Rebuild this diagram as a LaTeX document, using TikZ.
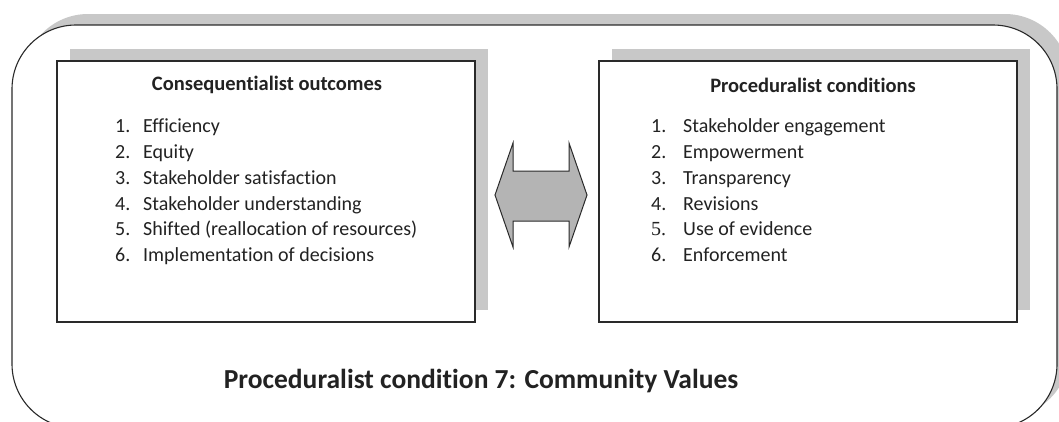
\documentclass[tikz,border=0pt]{standalone}
\usepackage{fontspec}
\setmainfont{Carlito}[Ligatures=NoCommon]
\newfontfamily\timesnum{Liberation Serif}
\usetikzlibrary{shadows}
\definecolor{shadegray}{HTML}{C8C8C8}
\definecolor{arrowgray}{HTML}{B4B4B4}
\definecolor{linedark}{HTML}{2A2A2A}
\definecolor{textdark}{HTML}{222222}
\begin{document}
\begin{tikzpicture}[x=1pt,y=-1pt,
  framebox/.style={draw=linedark, line width=1.1pt, fill=white, rounded corners=64pt,
    inner sep=0pt, minimum width=1045pt, minimum height=403pt,
    drop shadow={shadow xshift=12pt, shadow yshift=11pt, fill=shadegray, opacity=1}},
  listbox/.style={draw=linedark, line width=1.3pt, fill=white, inner sep=0pt,
    minimum width=418pt, minimum height=261pt,
    drop shadow={shadow xshift=13pt, shadow yshift=12pt, fill=shadegray, opacity=1}},
  heading/.style={font=\fontsize{20.5}{24}\selectfont\bfseries, text=textdark, inner sep=0pt},
  item/.style={font=\fontsize{20}{24}\selectfont, text=textdark, inner sep=0pt, anchor=base west},
  bigtitle/.style={font=\fontsize{27.5}{32}\selectfont\bfseries, text=textdark, inner sep=0pt},
  dblarrow/.style={draw=linedark, line width=1pt, fill=arrowgray, line join=miter}
]
\useasboundingbox (0,0) rectangle (1059,421);
\clip (0,0) rectangle (1059,421);
\node[framebox] (frame) at (534.5,226.5) {};
\node[listbox] (lbox) at (266,191.5) {};
\node[listbox] (rbox) at (808,191.5) {};
\node[heading] (lhead) at (267,85) {Consequentialist outcomes};
\node[heading] (rhead) at (813,85) {Proceduralist conditions};
% left list
\foreach \n/\t/\y [count=\i] in {1./Efficiency/126, 2./Equity/152, 3./Stakeholder satisfaction/178,
  4./Stakeholder understanding/204, 5./Shifted (reallocation of resources)/229,
  6./Implementation of decisions/255}{
  \node[item] (ln\i) at (115,\y+6.5) {\n};
  \node[item] (lt\i) at (143,\y+6.5) {\t};
}
% right list
\foreach \n/\t/\y [count=\i] in {1./Stakeholder engagement/126, 2./Empowerment/152, 3./Transparency/178,
  4./Revisions/204, 5./Use of evidence/229, 6./Enforcement/255}{
  \ifnum\i=5
    \node[item] (rn\i) at (651,\y+6.5) {\timesnum\n};
  \else
    \node[item] (rn\i) at (651,\y+6.5) {\n};
  \fi
  \node[item] (rt\i) at (683,\y+6.5) {\t};
}
% double arrow
\coordinate (ac) at (541,195);
\draw[dblarrow] ([xshift=-46pt]ac) -- ++(18,-52) -- ++(0,28) -- ++(56,0) -- ++(0,-28)
  -- ++(18,52) -- ++(-18,52) -- ++(0,-26) -- ++(-56,0) -- ++(0,26) -- cycle;
\node[bigtitle] (title) at (481,381) {Proceduralist condition 7: Community Values};
\end{tikzpicture}
\end{document}
